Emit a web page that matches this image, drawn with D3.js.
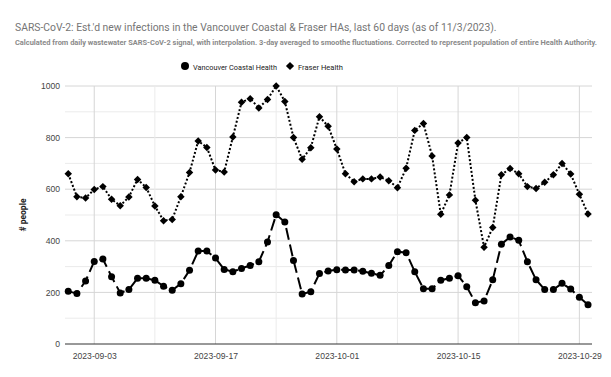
<!DOCTYPE html>
<html>
<head>
<meta charset="utf-8">
<script src="https://cdn.jsdelivr.net/npm/d3@7"></script>
<style>
  body { margin: 0; background: #fff; }
  svg { display: block; font-family: Roboto, "Liberation Sans", Arial, sans-serif; }
</style>
</head>
<body>
<div id="chart"></div>
<script>
// data: daily values, starting 2023-08-31
const startDate = new Date(2023, 7, 31);
const seriesNames = ["Vancouver Coastal Health", "Fraser Health"];
const vch = [204,196,244,320,329,261,198,211,255,255,247,224,208,234,286,360,360,333,289,280,293,304,319,395,501,473,324,194,203,273,283,288,287,287,282,274,266,304,358,354,280,214,214,247,255,265,222,160,167,249,387,415,402,319,249,211,211,235,213,181,152];
const fraser = [660,571,566,599,610,561,536,570,638,607,535,478,483,571,665,787,762,674,667,802,937,951,915,948,1000,940,800,716,761,881,844,756,660,629,640,640,647,633,606,681,828,855,729,503,578,779,800,557,375,452,656,680,660,610,603,627,656,700,659,580,504];
const yTicks = [0, 200, 400, 600, 800, 1000];

const width = 611, height = 377;
const plot = { left: 65, right: 592, top: 86, bottom: 344 };

const dates = d3.timeDay.range(startDate, d3.timeDay.offset(startDate, vch.length));

const svg = d3.select("#chart").append("svg")
    .attr("width", width)
    .attr("height", height);

// shrink/grow a text node's font so it spans the given width
function fitWidth(sel, w) {
    sel.each(function () {
        const fs = parseFloat(this.style.fontSize);
        const len = this.getComputedTextLength();
        this.style.fontSize = (fs * w / len) + "px";
    });
}

const x = d3.scaleTime()
    .domain([d3.timeHour.offset(dates[0], -9), d3.timeHour.offset(dates[dates.length - 1], 11)])
    .range([plot.left, plot.right]);

const y = d3.scaleLinear()
    .domain([0, 1000])
    .range([plot.bottom, plot.top]);

// title + subtitle
svg.append("text")
    .attr("x", 15).attr("y", 31)
    .attr("fill", "#757575")
    .style("font-size", "12px")
    .text("SARS-CoV-2: Est.'d new infections in the Vancouver Coastal & Fraser HAs, last 60 days (as of 11/3/2023).")
    .call(fitWidth, 482);

svg.append("text")
    .attr("x", 15).attr("y", 45)
    .attr("fill", "#8a8a8a")
    .style("font-size", "7px")
    .style("font-weight", "bold")
    .text("Calculated from daily wastewater SARS-CoV-2 signal, with interpolation. 3-day averaged to smoothe fluctuations. Corrected to represent population of entire Health Authority.")
    .call(fitWidth, 583);

// gridlines
const minorY = d3.range(100, 1000, 200);
svg.append("g").selectAll("line")
    .data(minorY)
    .join("line")
    .attr("x1", plot.left).attr("x2", plot.right)
    .attr("y1", d => y(d)).attr("y2", d => y(d))
    .attr("stroke", "#ebebeb");

svg.append("g").selectAll("line")
    .data(yTicks.slice(1))
    .join("line")
    .attr("x1", plot.left).attr("x2", plot.right)
    .attr("y1", d => y(d)).attr("y2", d => y(d))
    .attr("stroke", "#d6d6d6");

const weekTicks = d3.timeDay.range(new Date(2023, 8, 3), x.domain()[1], 7);
svg.append("g").selectAll("line")
    .data(weekTicks)
    .join("line")
    .attr("x1", d => x(d)).attr("x2", d => x(d))
    .attr("y1", plot.top).attr("y2", plot.bottom)
    .attr("stroke", (d, i) => i % 2 === 0 ? "#d6d6d6" : "#ebebeb");

// axes
const xAxis = d3.axisBottom(x)
    .tickValues(weekTicks.filter((d, i) => i % 2 === 0))
    .tickFormat(d3.timeFormat("%Y-%m-%d"))
    .tickSize(0)
    .tickPadding(9);

const gx = svg.append("g")
    .attr("transform", `translate(0,${plot.bottom})`)
    .call(xAxis);
gx.select(".domain").remove();
gx.selectAll("text").attr("fill", "#444").style("font-size", "9px").call(fitWidth, 44);

const yAxis = d3.axisLeft(y)
    .tickValues(yTicks)
    .tickFormat(d3.format("d"))
    .tickSize(0)
    .tickPadding(5);
const gy = svg.append("g")
    .attr("transform", `translate(${plot.left},0)`)
    .call(yAxis);
gy.select(".domain").remove();
gy.selectAll("text").attr("fill", "#444").style("font-size", gx.select("text").style("font-size"));

svg.append("line")
    .attr("x1", plot.left).attr("x2", plot.right)
    .attr("y1", y(0)).attr("y2", y(0))
    .attr("stroke", "#333");

svg.append("text")
    .attr("transform", `translate(26,${(plot.top + plot.bottom) / 2}) rotate(-90)`)
    .attr("text-anchor", "middle")
    .attr("fill", "#222")
    .style("font-size", "8.5px")
    .style("font-weight", "bold")
    .text("# people");

// lines
const line = d3.line()
    .x((d, i) => x(dates[i]))
    .y(d => y(d));

svg.append("path")
    .datum(vch)
    .attr("d", line)
    .attr("fill", "none")
    .attr("stroke", "#000")
    .attr("stroke-width", 2)
    .attr("stroke-dasharray", "12,5");

svg.append("path")
    .datum(fraser)
    .attr("d", line)
    .attr("fill", "none")
    .attr("stroke", "#000")
    .attr("stroke-width", 2)
    .attr("stroke-dasharray", "2,2");

// markers
svg.append("g").selectAll("circle")
    .data(vch)
    .join("circle")
    .attr("cx", (d, i) => x(dates[i]))
    .attr("cy", d => y(d))
    .attr("r", 3.5)
    .attr("fill", "#000");

const diamond = d3.symbol().type(d3.symbolSquare).size(28);
svg.append("g").selectAll("path")
    .data(fraser)
    .join("path")
    .attr("d", diamond)
    .attr("transform", (d, i) => `translate(${x(dates[i])},${y(d)}) rotate(45)`)
    .attr("fill", "#000");

// legend
const legend = svg.append("g").attr("transform", "translate(0,66)");
legend.append("circle").attr("cx", 185).attr("cy", 0).attr("r", 4).attr("fill", "#000");
legend.append("text").attr("x", 193).attr("y", 3.5)
    .attr("fill", "#222").style("font-size", "10px").text(seriesNames[0]).call(fitWidth, 84);
legend.append("path").attr("d", d3.symbol().type(d3.symbolSquare).size(34))
    .attr("transform", "translate(290,0) rotate(45)").attr("fill", "#000");
legend.append("text").attr("x", 298).attr("y", 3.5)
    .attr("fill", "#222").style("font-size", "10px").text(seriesNames[1]).call(fitWidth, 45);
</script>
</body>
</html>
